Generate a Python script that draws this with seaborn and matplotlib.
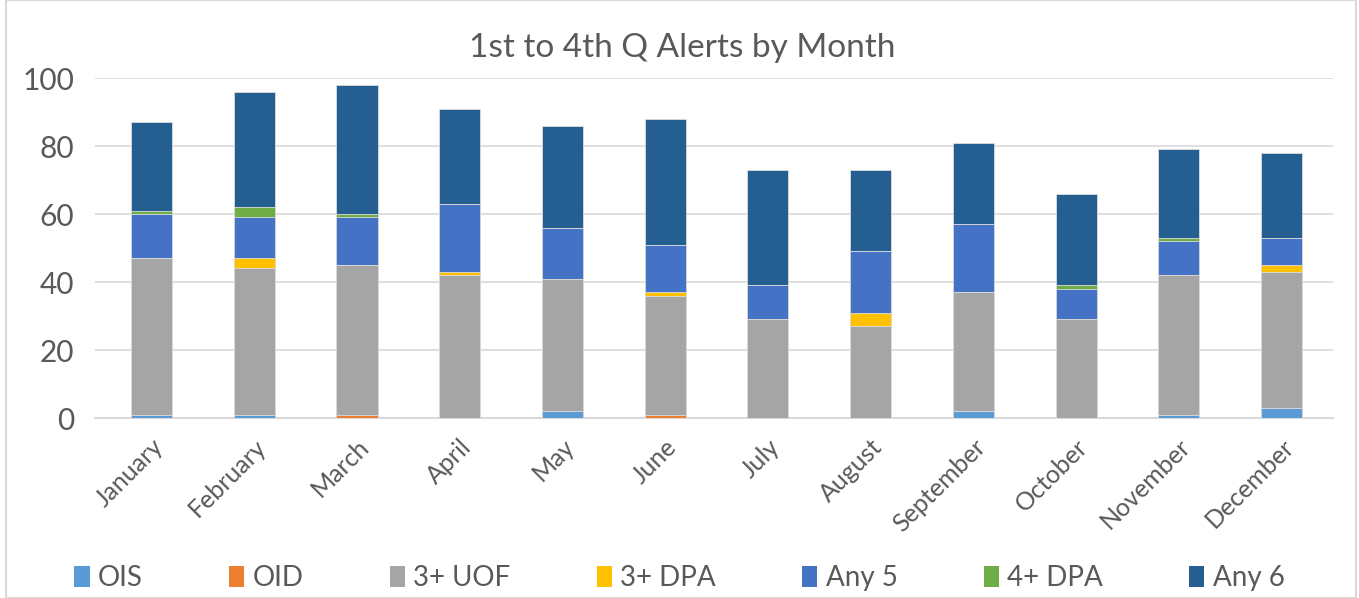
import matplotlib
matplotlib.use("Agg")
import matplotlib.pyplot as plt
import seaborn as sns
import pandas as pd
import numpy as np
from matplotlib.patches import Rectangle, Patch

months = ["January", "February", "March", "April", "May", "June", "July",
          "August", "September", "October", "November", "December"]
ois    = [1, 1, 0, 0, 2, 0, 0, 0, 2, 0, 1, 3]
oid    = [0, 0, 1, 0, 0, 1, 0, 0, 0, 0, 0, 0]
uof3   = [46, 43, 44, 42, 39, 35, 29, 27, 35, 29, 41, 40]
dpa3   = [0, 3, 0, 1, 0, 1, 0, 4, 0, 0, 0, 2]
any5   = [13, 12, 14, 20, 15, 14, 10, 18, 20, 9, 10, 8]
dpa4   = [1, 3, 1, 0, 0, 0, 0, 0, 0, 1, 1, 0]
any6   = [26, 34, 38, 28, 30, 37, 34, 24, 24, 27, 26, 25]

series_names = ["OIS", "OID", "3+ UOF", "3+ DPA", "Any 5", "4+ DPA", "Any 6"]
series_vals = [ois, oid, uof3, dpa3, any5, dpa4, any6]
colors = ["#5B9BD5", "#ED7D31", "#A5A5A5", "#FFC000", "#4472C4", "#70AD47", "#255E91"]

sns.set_theme(style="white")
plt.rcParams['font.family'] = ['Lato', 'DejaVu Sans']

fig = plt.figure(figsize=(13.59, 5.98), dpi=100)
ax = fig.add_axes([95/1359, 1 - 418/598, (1333-95)/1359, (418-78)/598])

cum = np.cumsum(np.array(series_vals), axis=0)
df = pd.DataFrame({"month": months})
for i in range(len(series_names) - 1, -1, -1):
    df["v"] = cum[i]
    sns.barplot(data=df, x="month", y="v", order=months, color=colors[i],
                saturation=1, width=0.4, edgecolor="#dcdcdc", linewidth=0.6,
                ax=ax, zorder=3)

ax.set_xlim(-0.55, 11.5)
ax.set_ylim(0, 100)
ax.set_yticks([0, 20, 40, 60, 80, 100])
ax.yaxis.grid(True, color="#d9d9d9", linewidth=1.2, zorder=0)
ax.set_axisbelow(True)
for s in ["top", "right", "left"]:
    ax.spines[s].set_visible(False)
ax.spines["bottom"].set_color("#d9d9d9")
ax.spines["bottom"].set_linewidth(1.5)
ax.set_xlabel("")
ax.set_ylabel("")
ax.tick_params(axis="y", labelsize=21.5, colors="#595959", length=0, pad=15)
ax.tick_params(axis="x", labelsize=18, colors="#595959", length=0, pad=12)
for lbl in ax.get_xticklabels():
    lbl.set_rotation(45)
    lbl.set_ha("right")
    lbl.set_rotation_mode("anchor")

fig.text(682/1359, 1 - 48/598, "1st to 4th Q Alerts by Month", ha="center", va="center",
         fontsize=24, color="#595959")

handles = [Patch(facecolor=c, edgecolor="none") for c in colors]
fig.legend(handles, series_names, loc="center", bbox_to_anchor=(0.5, 1 - 578/598),
           ncol=7, frameon=False, fontsize=20, handlelength=0.55, handleheight=0.8,
           handletextpad=0.3, columnspacing=3.1, labelcolor="#595959")

fig.patches.append(Rectangle((6/1359, 0), (1356-6)/1359, 1.0, transform=fig.transFigure,
                             fill=False, edgecolor="#d9d9d9", linewidth=1.5))

fig.savefig("out.png", dpi=100)
